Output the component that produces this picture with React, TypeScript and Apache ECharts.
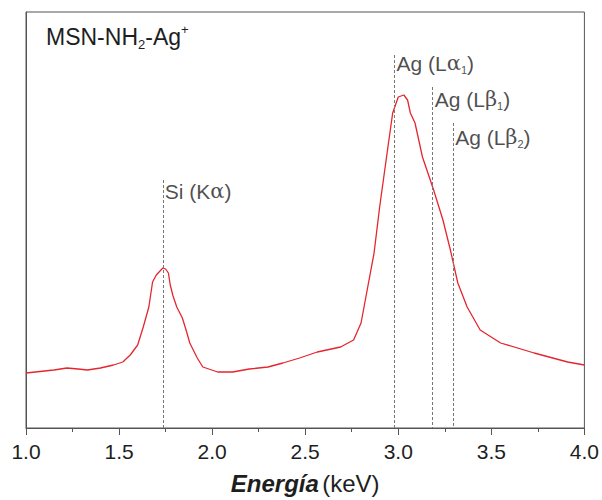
import React, { useEffect, useRef } from "react";
import * as echarts from "echarts";

const energy = [
  1.0, 1.05, 1.1, 1.15, 1.22, 1.28, 1.33, 1.4, 1.47, 1.52, 1.56, 1.6, 1.63, 1.66, 1.68, 1.7, 1.72, 1.735, 1.75,
  1.765, 1.775, 1.79, 1.81, 1.84, 1.86, 1.88, 1.92, 1.95, 2.03, 2.11, 2.2, 2.3, 2.38, 2.47, 2.565, 2.69, 2.76, 2.8,
  2.83, 2.87, 2.9, 2.94, 2.97, 3.0, 3.03, 3.05, 3.065, 3.09, 3.13, 3.19, 3.24, 3.28, 3.32, 3.37, 3.44, 3.55, 3.73,
  3.91, 4.0,
];
const intensity = [
  55, 56, 57, 58, 60, 59, 58, 60, 63, 66, 73, 83, 101, 121, 146, 153, 157, 160, 159,
  155, 143, 132, 121, 110, 98, 85, 70, 61, 56, 56, 59, 61, 65, 70, 76, 81, 88, 105,
  135, 175, 221, 275, 315, 331, 333, 328, 315, 305, 271, 238, 208, 178, 145, 121, 98, 85, 75,
  66, 63,
];

const peakNames = [
  "{a|Si (K}{g|α}{a|)}",
  "{a|Ag (L}{g|α}{s|1}{a|)}",
  "{a|Ag (L}{g|β}{s|1}{a|)}",
  "{a|Ag (L}{g|β}{s|2}{a|)}",
];
const peakEnergy = [1.735, 2.98, 3.185, 3.295];
const peakLineTop = [248, 373, 341, 305];
const peakLabelLevel = [237, 365, 329, 291];

const xTicks = { min: 1.0, max: 4.0, interval: 0.5 };
const yRange = { min: 0, max: 416 };

const FONT = "Liberation Sans, Arial, sans-serif";
const INK = "#1e1e1e";

export default function App() {
  const ref = useRef<HTMLDivElement>(null);
  useEffect(() => {
    if (!ref.current) return;
    const chart = echarts.init(ref.current, null, { renderer: "svg" });
    const lineData = energy.map((e, i) => [e, intensity[i]]);
    const labelRich = {
      a: { fontSize: 21, fontFamily: FONT, color: INK, lineHeight: 25, verticalAlign: "middle" },
      g: { fontSize: 21, fontFamily: "DejaVu Serif, serif", color: INK, lineHeight: 25, verticalAlign: "middle" },
      s: { fontSize: 11, fontFamily: FONT, color: INK, lineHeight: 11, verticalAlign: "bottom" },
    };
    chart.setOption({
      animation: false,
      backgroundColor: "#fff",
      grid: {
        left: 26,
        right: 16,
        top: 12,
        bottom: 72,
        show: true,
        borderColor: "#555",
        borderWidth: 1,
      },
      xAxis: {
        type: "value",
        min: xTicks.min,
        max: xTicks.max,
        interval: xTicks.interval,
        name: "{b|Energía} {n|(keV)}",
        nameLocation: "middle",
        nameGap: 43,
        nameTextStyle: {
          rich: {
            b: { fontSize: 24, fontWeight: "bold", fontStyle: "italic", fontFamily: FONT, color: INK },
            n: { fontSize: 24, fontFamily: FONT, color: INK },
          },
        },
        axisLine: { show: true, lineStyle: { color: "#555", width: 1 } },
        axisTick: { show: true, length: 7, lineStyle: { color: "#555" } },
        minorTick: { show: true, splitNumber: 2, length: 4, lineStyle: { color: "#555" } },
        splitLine: { show: false },
        axisLabel: {
          fontSize: 21,
          fontFamily: FONT,
          color: INK,
          margin: 13,
          formatter: (v: number) => v.toFixed(1),
        },
      },
      yAxis: {
        type: "value",
        min: yRange.min,
        max: yRange.max,
        axisLine: { show: true, lineStyle: { color: "#555", width: 1 } },
        axisTick: { show: false },
        axisLabel: { show: false },
        splitLine: { show: false },
      },
      graphic: [
        {
          type: "text",
          left: 46,
          top: 23,
          style: {
            text: "{a|MSN-NH}{s|2}{a|-Ag}{p|+}",
            rich: {
              a: { fontSize: 23, fontFamily: FONT, fill: INK, lineHeight: 28, verticalAlign: "middle" },
              s: { fontSize: 13, fontFamily: FONT, fill: INK, lineHeight: 13, verticalAlign: "bottom" },
              p: { fontSize: 13, fontFamily: FONT, fill: INK, lineHeight: 13, verticalAlign: "top" },
            },
          },
        },
      ],
      series: [
        {
          type: "line",
          data: lineData,
          showSymbol: false,
          symbol: "none",
          lineStyle: { color: "#e4262e", width: 1.3 },
          z: 3,
          markLine: {
            silent: true,
            symbol: "none",
            label: { show: false },
            lineStyle: { color: "#777", type: [3, 2], width: 1 },
            data: peakEnergy.map((e, i) => [
              { coord: [e, peakLineTop[i]] },
              { coord: [e, yRange.min] },
            ]),
          },
        },
        {
          type: "scatter",
          symbolSize: 0,
          silent: true,
          itemStyle: { color: INK },
          data: peakEnergy.map((e, i) => ({
            value: [e, peakLabelLevel[i]],
            label: {
              show: true,
              position: "right",
              distance: 2,
              color: INK,
              formatter: peakNames[i],
              rich: labelRich,
            },
          })),
        },
      ],
    });
    return () => chart.dispose();
  }, []);
  return (
    <div
      ref={ref}
      style={{ position: "absolute", left: 0, top: 0, width: 602, height: 500, background: "#fff" }}
    />
  );
}
